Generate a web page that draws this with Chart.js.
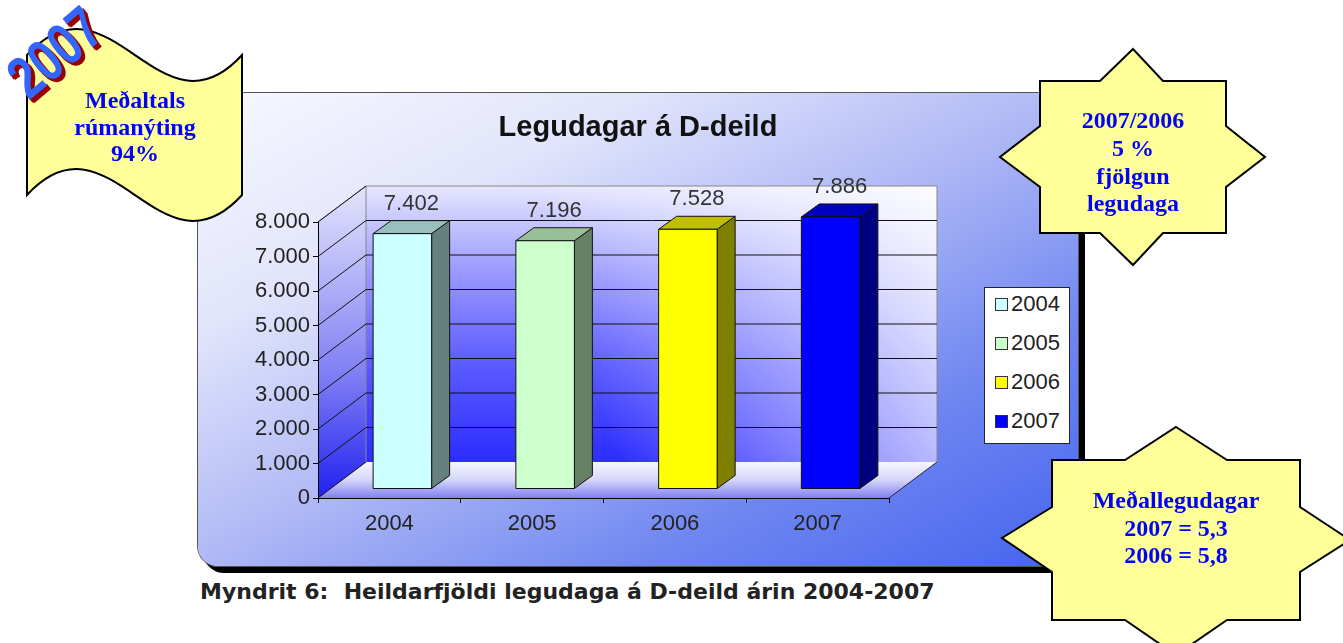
<!DOCTYPE html>
<html>
<head>
<meta charset="utf-8">
<script src="https://cdn.jsdelivr.net/npm/chart.js@4.4.1/dist/chart.umd.min.js"></script>
<style>
  html, body { margin: 0; padding: 0; background: #fff; }
  body { width: 1343px; height: 643px; position: relative; overflow: hidden; font-family: 'Liberation Sans', Arial, sans-serif; }
  #panel {
    position: absolute; left: 198px; top: 93px; width: 880px; height: 473px;
    border-radius: 20px;
    background: linear-gradient(to bottom right, #f8f8ff 0%, #e2e5fb 25%, #aeb8f5 50%, #6f86f1 75%, #4464ee 100%);
    box-shadow: 0 0 0 1px #555, 6px 6px 0 1px #000;
  }
  #panel canvas { position: absolute; left: 0; top: 0; }
  #legend {
    position: absolute; left: 984px; top: 287px; width: 86px; height: 157px;
    background: #fff; border: 1px solid #223; box-sizing: border-box;
  }
  #legend .row { position: absolute; left: 10px; height: 24px; line-height: 24px; font-size: 22px; color: #222; white-space: nowrap; }
  #legend .sw { display: inline-block; width: 11px; height: 11px; border: 1px solid #333; margin-right: 3px; vertical-align: 0px; }
  #caption {
    position: absolute; left: 200px; top: 579px; white-space: pre;
    font-family: 'DejaVu Sans', sans-serif; font-weight: bold; font-size: 22px; color: #222;
  }
  #deco { position: absolute; left: 0; top: 0; }
</style>
</head>
<body>
<div id="panel"><canvas id="legudagarChart" width="880" height="473"></canvas></div>
<div id="legend"></div>
<div id="caption">Myndrit 6:  Heildarfjöldi legudaga á D-deild árin 2004-2007</div>

<svg id="deco" width="1343" height="643" xmlns="http://www.w3.org/2000/svg">
  <!-- wave flag, top left -->
  <path d="M27,55 C110,-35 160,145 242,55 L242,195 C160,285 110,105 27,195 Z"
        fill="#ffff99" stroke="#000" stroke-width="2"/>
  <g font-family="'Liberation Serif', 'Times New Roman', serif" font-weight="bold" font-size="24" fill="#0000ff" text-anchor="middle">
    <text x="135" y="108">Meðaltals</text>
    <text x="135" y="135">rúmanýting</text>
    <text x="135" y="161">94%</text>
  </g>
  <g font-family="'Liberation Sans', Arial, sans-serif" font-weight="bold" font-size="46" text-anchor="middle">
    <text transform="translate(68,68) rotate(-40) scale(1.0,1.3)" fill="#990000" x="1" y="4">2007</text>
    <text transform="translate(68,68) rotate(-40) scale(1.0,1.3)" fill="#990000" x="0" y="3">2007</text>
    <text transform="translate(68,68) rotate(-40) scale(1.0,1.3)" fill="#3366ff">2007</text>
  </g>

  <!-- star, top right -->
  <polygon points="1133,49 1163,81 1226,81 1226,126 1265,157 1226,187 1226,233 1163,233 1133,265 1100,233 1040,233 1040,187 1000,157 1040,126 1040,81 1100,81"
           fill="#ffff99" stroke="#000" stroke-width="2"/>
  <g font-family="'Liberation Serif', 'Times New Roman', serif" font-weight="bold" font-size="24" fill="#0000ff" text-anchor="middle">
    <text x="1133" y="128">2007/2006</text>
    <text x="1133" y="156">5 %</text>
    <text x="1133" y="184">fjölgun</text>
    <text x="1133" y="211">legudaga</text>
  </g>

  <!-- star, bottom right -->
  <polygon points="1176,427 1227,460 1300,460 1300,507 1350,540 1300,572 1300,620 1227,620 1176,655 1125,620 1052,620 1052,572 1002,538 1052,507 1052,460 1125,460"
           fill="#ffff99" stroke="#000" stroke-width="2"/>
  <g font-family="'Liberation Serif', 'Times New Roman', serif" font-weight="bold" font-size="24" fill="#0000ff" text-anchor="middle">
    <text x="1176" y="508">Meðallegudagar</text>
    <text x="1176" y="536">2007 = 5,3</text>
    <text x="1176" y="563">2006 = 5,8</text>
  </g>
</svg>

<script>
// ─── DATA ────────────────────────────────────────────────────
const years = ['2004', '2005', '2006', '2007'];
const legudagar = [7402, 7196, 7528, 7886];
const barColors = ['#ccffff', '#ccffcc', '#ffff00', '#0000ff'];
const yMin = 0;
const yMax = 8000;
const yStep = 1000;

// ─── 3D LOOK ─────────────────────────────────────────────────
const WALL_DX = 48, WALL_DY = -36;   // depth of floor / side wall
const BAR_OX = 13, BAR_OY = -9;      // bars stand a little behind the front edge
const BAR_DX = 18, BAR_DY = -13;     // depth of each bar

const FONT = "'Liberation Sans', Arial, sans-serif";

// "7402" -> "7.402"
function fmt(v) {
    return String(v).replace(/\B(?=(\d{3})+(?!\d))/g, '.');
}

// darken a hex colour by factor f
function shade(hex, f) {
    const n = parseInt(hex.slice(1), 16);
    const r = Math.round(((n >> 16) & 255) * f);
    const g = Math.round(((n >> 8) & 255) * f);
    const b = Math.round((n & 255) * f);
    return `rgb(${r},${g},${b})`;
}

function poly(ctx, pts, fill, stroke) {
    ctx.beginPath();
    pts.forEach(([x, y], i) => i ? ctx.lineTo(x, y) : ctx.moveTo(x, y));
    ctx.closePath();
    if (fill) { ctx.fillStyle = fill; ctx.fill(); }
    if (stroke) { ctx.strokeStyle = stroke; ctx.lineWidth = 1; ctx.stroke(); }
}

// open polyline
function path(ctx, pts, color) {
    ctx.beginPath();
    pts.forEach(([x, y], i) => i ? ctx.lineTo(x, y) : ctx.moveTo(x, y));
    ctx.strokeStyle = color;
    ctx.lineWidth = 1;
    ctx.stroke();
}

const box3d = {
    id: 'box3d',
    // walls + floor go under the axes
    beforeDraw(chart) {
        const { ctx, chartArea: a, scales: { y } } = chart;
        const L = a.left, R = a.right, T = a.top, B = a.bottom;
        const backWall = [[L + WALL_DX, T + WALL_DY], [R + WALL_DX, T + WALL_DY], [R + WALL_DX, B + WALL_DY], [L + WALL_DX, B + WALL_DY]];
        ctx.save();

        // floor
        let g = ctx.createLinearGradient(0, B + WALL_DY, 0, B);
        g.addColorStop(0, '#f6f6ff');
        g.addColorStop(0.5, '#d6d6fa');
        g.addColorStop(1, '#8080f0');
        poly(ctx, [[L, B], [L + WALL_DX, B + WALL_DY], [R + WALL_DX, B + WALL_DY], [R, B]], g);

        // back wall
        g = ctx.createLinearGradient(0, B + WALL_DY, 0, T + WALL_DY);
        g.addColorStop(0, '#2c2cff');
        g.addColorStop(0.35, '#5a5aff');
        g.addColorStop(0.7, '#9c9cff');
        g.addColorStop(1, '#e6e6ff');
        poly(ctx, backWall, g);
        // light glow in the upper right of the back wall
        g = ctx.createLinearGradient(L + WALL_DX + 200, T + WALL_DY + 120, R + WALL_DX, T + WALL_DY);
        g.addColorStop(0, 'rgba(255,255,255,0)');
        g.addColorStop(1, 'rgba(255,255,255,0.85)');
        poly(ctx, backWall, g);

        // side wall
        g = ctx.createLinearGradient(0, B, 0, T + WALL_DY);
        g.addColorStop(0, '#2020f0');
        g.addColorStop(0.4, '#8080f4');
        g.addColorStop(1, '#e4e4fc');
        poly(ctx, [[L, B], [L + WALL_DX, B + WALL_DY], [L + WALL_DX, T + WALL_DY], [L, T]], g);

        // outlines
        path(ctx, [[L, T], [L + WALL_DX, T + WALL_DY], [R + WALL_DX, T + WALL_DY], [R + WALL_DX, B + WALL_DY]], '#888');
        path(ctx, [[L + WALL_DX, T + WALL_DY], [L + WALL_DX, B + WALL_DY]], '#888');
        path(ctx, [[R, B], [R + WALL_DX, B + WALL_DY]], '#223');

        // grid: diagonals on side wall, horizontals on back wall
        y.ticks.forEach(t => {
            const py = y.getPixelForValue(t.value);
            path(ctx, [[L, py], [L + WALL_DX, py + WALL_DY]], '#111');
            if (t.value > yMin && t.value < yMax) {
                path(ctx, [[L + WALL_DX, py + WALL_DY], [R + WALL_DX, py + WALL_DY]], '#111');
            }
        });
        ctx.restore();
    },
    // bars + value labels
    afterDatasetsDraw(chart) {
        const { ctx } = chart;
        const meta = chart.getDatasetMeta(0);
        ctx.save();
        meta.data.forEach((bar, i) => {
            const { x, y, base, width } = bar.getProps(['x', 'y', 'base', 'width'], true);
            const x0 = x - width / 2 + BAR_OX, x1 = x + width / 2 + BAR_OX;
            const top = y + BAR_OY, bot = base + BAR_OY;
            const c = barColors[i];

            // side
            poly(ctx, [[x1, top], [x1 + BAR_DX, top + BAR_DY], [x1 + BAR_DX, bot + BAR_DY], [x1, bot]], shade(c, 0.5), '#111');
            // top
            poly(ctx, [[x0, top], [x0 + BAR_DX, top + BAR_DY], [x1 + BAR_DX, top + BAR_DY], [x1, top]], shade(c, 0.75), '#111');
            // front
            poly(ctx, [[x0, top], [x1, top], [x1, bot], [x0, bot]], c, '#111');

            // value label
            ctx.font = '22px ' + FONT;
            ctx.fillStyle = '#333';
            ctx.textAlign = 'center';
            ctx.textBaseline = 'middle';
            ctx.fillText(fmt(legudagar[i]), (x0 + x1) / 2 + BAR_DX / 2, top + BAR_DY - 17);
        });
        ctx.restore();
    }
};

// ─── CHART ───────────────────────────────────────────────────
new Chart(document.getElementById('legudagarChart'), {
    type: 'bar',
    data: {
        labels: years,
        datasets: [{
            label: 'Legudagar',
            data: legudagar,
            backgroundColor: 'rgba(0,0,0,0)',
            borderWidth: 0,
            barPercentage: 0.41,
            categoryPercentage: 1
        }]
    },
    options: {
        responsive: false,
        animation: false,
        devicePixelRatio: 1,
        layout: { padding: 0 },
        plugins: {
            legend: { display: false },
            tooltip: { enabled: false },
            title: {
                display: true,
                text: 'Legudagar á D-deild',
                color: '#111',
                font: { family: FONT, size: 29, weight: 'bold' },
                padding: { top: 18, bottom: 76.2 }
            }
        },
        scales: {
            y: {
                min: yMin,
                max: yMax,
                ticks: {
                    stepSize: yStep,
                    color: '#222',
                    padding: 3,
                    font: { family: FONT, size: 22 },
                    callback: v => fmt(v)
                },
                grid: { drawOnChartArea: false, tickLength: 5, color: '#000' },
                border: { color: '#000' },
                afterFit: s => { s.width = 120; }
            },
            // empty axis on the right: keeps room for the legend box
            spacer: {
                type: 'linear',
                position: 'right',
                display: true,
                ticks: { display: false },
                grid: { display: false, drawTicks: false },
                border: { display: false },
                afterFit: s => { s.width = 189; }
            },
            x: {
                ticks: {
                    color: '#222',
                    padding: 8,
                    font: { family: FONT, size: 22 }
                },
                grid: { drawOnChartArea: false, tickLength: 5, color: '#000' },
                border: { color: '#000' },
                afterFit: s => { s.height = 68; }
            }
        }
    },
    plugins: [box3d]
});

// ─── LEGEND (one entry per year) ─────────────────────────────
const legendEl = document.getElementById('legend');
years.forEach((yr, i) => {
    const row = document.createElement('div');
    row.className = 'row';
    row.style.top = (4 + i * 39) + 'px';
    row.innerHTML = `<span class="sw" style="background:${barColors[i]}"></span>${yr}`;
    legendEl.appendChild(row);
});
</script>
</body>
</html>
